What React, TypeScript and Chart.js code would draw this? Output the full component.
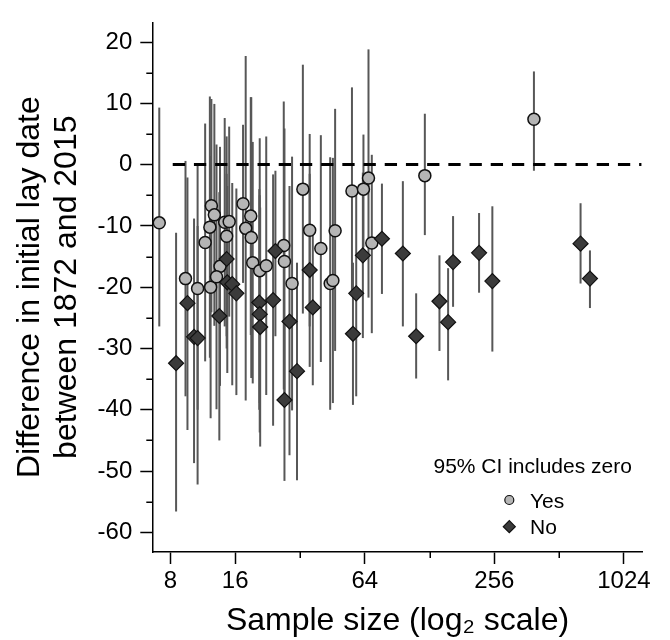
import React, { useEffect, useRef } from "react";
import { Chart, registerables } from "chart.js";

Chart.register(...registerables);

// ---- Data: "Yes" (95% CI includes zero) ----
const yesSampleSize = [7.1, 9.4, 10.7, 12.3, 11.6, 12.2, 12.4, 12.8, 13.6, 13.1, 14.3, 15.0, 14.6, 17.4, 18.9, 17.9, 19.0, 19.3, 20.8, 22.3, 26.9, 27.1, 29.4, 33.0, 35.5, 40.0, 44.2, 45.5, 46.6, 55.8, 63.1, 66.6, 69.0, 121.7, 391];
const yesDifference = [-9.5, -18.6, -20.2, -20.0, -12.7, -10.2, -6.7, -8.2, -16.6, -18.3, -9.4, -9.3, -11.7, -6.4, -8.4, -10.4, -11.9, -16.0, -17.3, -16.5, -13.2, -15.8, -19.4, -4.0, -10.7, -13.7, -19.4, -18.9, -10.8, -4.3, -4.0, -2.2, -12.8, -1.8, 7.4];
const yesLower = [-26.4, -37.8, -40.0, -41.4, -32.1, -31.5, -24.1, -26.3, -36.1, -39.9, -26.4, -24.8, -28.0, -19.3, -27.8, -38.5, -34.8, -35.7, -38.9, -37.6, -36.7, -37.5, -40.1, -24.3, -26.4, -32.2, -40.0, -38.9, -30.4, -21.2, -13.5, -21.7, -27.5, -11.5, -1.0];
const yesUpper = [9.3, 0.6, 0.2, 1.4, 6.7, 11.1, 10.7, 9.9, 2.9, 3.3, 7.6, 6.2, 4.6, 6.5, 11.0, 17.7, 11.0, 3.7, 4.3, 4.6, 10.3, 5.9, 1.3, 16.3, 5.0, 4.8, 1.2, 1.1, 9.1, 12.6, 4.9, 18.8, 1.6, 8.3, 15.2];

// ---- Data: "No" (95% CI excludes zero) ----
const noSampleSize = [8.5, 9.6, 10.3, 10.7, 13.5, 14.6, 14.7, 15.5, 16.2, 20.7, 20.8, 20.9, 24.0, 24.6, 27.1, 28.6, 31.0, 35.5, 36.7, 56.4, 58.4, 62.7, 76.9, 96.2, 110.9, 142.3, 156.1, 164.6, 217.4, 250.6, 644, 712];
const noDifference = [-32.4, -22.6, -28.1, -28.3, -24.7, -15.4, -19.2, -19.5, -21.0, -22.5, -24.4, -26.5, -22.1, -14.1, -38.4, -25.6, -33.7, -17.2, -23.3, -27.6, -21.0, -14.8, -12.1, -14.5, -28.0, -22.3, -25.7, -15.9, -14.4, -19.0, -12.9, -18.6];
const noLower = [-56.6, -43.3, -48.7, -52.2, -45.0, -30.0, -34.0, -36.0, -37.6, -40.0, -43.7, -46.0, -42.6, -28.0, -51.6, -47.4, -51.5, -33.0, -36.0, -39.2, -37.8, -28.3, -21.1, -26.4, -34.9, -30.4, -35.2, -23.2, -20.9, -30.5, -19.4, -23.4];
const noUpper = [-11.1, -2.1, -8.8, -10.0, -4.5, -1.5, -3.5, -3.0, -3.9, -4.0, -5.0, -7.0, -1.6, -1.0, -25.0, -3.5, -16.0, -1.5, -10.5, -16.0, -4.5, -1.3, -3.1, -2.7, -21.0, -14.8, -16.9, -8.4, -7.9, -6.8, -6.3, -14.0];

// ---- Axes ----
const xTickLabels = [8, 16, 64, 256, 1024];
const xMinorTicks = [32, 128, 512];
const yTickLabels = [20, 10, 0, -10, -20, -30, -40, -50, -60];
const yMinorTicks = [15, 5, -5, -15, -25, -35, -45, -55];
const xRange = [6.59, 1252];
const yRange = [-63.2, 23.2];
const zeroLineRange = [8.2, 1235];

const yAxisTitle = ["Difference in initial lay date", "between 1872 and 2015"];
const xAxisTitle = "Sample size (log\u2082 scale)";
const legendTitle = "95% CI includes zero";
const legendLabels = ["Yes", "No"];

const FONT = "'Liberation Sans', Arial, Helvetica, sans-serif";
const YES_FILL = "#b5b5b5";
const NO_FILL = "#3b3b3b";
const EDGE = "#111111";

const toPoints = (xs: number[], ys: number[], lo: number[], hi: number[]) =>
  xs.map((x, i) => ({ x, y: ys[i], lo: lo[i], hi: hi[i] }));

const errorBarPlugin = {
  id: "errorBars",
  beforeDatasetsDraw(chart: any) {
    const { ctx, scales } = chart;
    const xs = scales.x;
    const ys = scales.y;
    ctx.save();
    ctx.strokeStyle = "#575757";
    ctx.lineWidth = 2;
    chart.data.datasets.forEach((ds: any) => {
      if (!ds.errorBars) return;
      ds.data.forEach((p: any) => {
        const px = xs.getPixelForValue(p.x);
        ctx.beginPath();
        ctx.moveTo(px, ys.getPixelForValue(p.lo));
        ctx.lineTo(px, ys.getPixelForValue(p.hi));
        ctx.stroke();
      });
    });
    ctx.restore();
  },
};

const minorTickPlugin = {
  id: "minorTicks",
  afterDraw(chart: any) {
    const { ctx, chartArea, scales } = chart;
    ctx.save();
    ctx.strokeStyle = "#000";
    ctx.lineWidth = 1.5;
    yMinorTicks.forEach((v) => {
      const py = Math.round(scales.y.getPixelForValue(v)) + 0.25;
      ctx.beginPath();
      ctx.moveTo(chartArea.left - 6, py);
      ctx.lineTo(chartArea.left, py);
      ctx.stroke();
    });
    xMinorTicks.forEach((v) => {
      const px = Math.round(scales.x.getPixelForValue(v)) + 0.25;
      ctx.beginPath();
      ctx.moveTo(px, chartArea.bottom);
      ctx.lineTo(px, chartArea.bottom + 6);
      ctx.stroke();
    });
    ctx.restore();
  },
};

const legendPlugin = {
  id: "ciLegend",
  afterDraw(chart: any) {
    const { ctx, chartArea } = chart;
    ctx.save();
    ctx.fillStyle = "#000";
    ctx.font = `21px ${FONT}`;
    ctx.textAlign = "center";
    ctx.textBaseline = "alphabetic";
    ctx.fillText(legendTitle, chartArea.right - 110, chartArea.bottom - 78.7);
    const mx = chartArea.right - 133.4;
    legendLabels.forEach((label, i) => {
      const my = chartArea.bottom - 52 + i * 26.7;
      ctx.lineWidth = 1.2;
      ctx.strokeStyle = EDGE;
      ctx.beginPath();
      if (i === 0) {
        ctx.fillStyle = YES_FILL;
        ctx.arc(mx, my, 4.5, 0, Math.PI * 2);
      } else {
        ctx.fillStyle = NO_FILL;
        const r = 6;
        ctx.moveTo(mx - r, my);
        ctx.lineTo(mx, my - r);
        ctx.lineTo(mx + r, my);
        ctx.lineTo(mx, my + r);
        ctx.closePath();
      }
      ctx.fill();
      ctx.stroke();
      ctx.fillStyle = "#000";
      ctx.textAlign = "left";
      ctx.fillText(label, mx + 20.7, my + 7.7);
    });
    ctx.restore();
  },
};

export default function App() {
  const canvasRef = useRef<HTMLCanvasElement | null>(null);

  useEffect(() => {
    if (!canvasRef.current) return;
    Chart.defaults.font.family = FONT;
    Chart.defaults.color = "#000";

    const chart = new Chart(canvasRef.current, {
      type: "scatter",
      data: {
        datasets: [
          {
            label: "zero",
            data: zeroLineRange.map((x) => ({ x, y: 0 })),
            showLine: true,
            borderColor: "#000",
            borderWidth: 3,
            borderDash: [12.3, 8.9],
            pointRadius: 0,
            order: 3,
            clip: false,
          } as any,
          {
            label: legendLabels[0],
            data: toPoints(yesSampleSize, yesDifference, yesLower, yesUpper),
            errorBars: true,
            pointStyle: "circle",
            pointRadius: 6,
            pointBackgroundColor: YES_FILL,
            pointBorderColor: EDGE,
            pointBorderWidth: 1.5,
            order: 2,
            clip: false,
          } as any,
          {
            label: legendLabels[1],
            data: toPoints(noSampleSize, noDifference, noLower, noUpper),
            errorBars: true,
            pointStyle: "rectRot",
            pointRadius: 7.5,
            pointBackgroundColor: NO_FILL,
            pointBorderColor: EDGE,
            pointBorderWidth: 1.2,
            order: 1,
            clip: false,
          } as any,
        ],
      },
      options: {
        animation: false,
        responsive: false,
        devicePixelRatio: 1,
        layout: { padding: { top: 8.3, right: 27.3, left: 0, bottom: 0 } },
        plugins: {
          legend: { display: false },
          tooltip: { enabled: false },
        },
        scales: {
          x: {
            type: "logarithmic",
            min: xRange[0],
            max: xRange[1],
            afterBuildTicks: (scale: any) => {
              scale.ticks = xTickLabels.map((v) => ({ value: v }));
            },
            afterFit: (scale: any) => {
              scale.height = 88;
            },
            ticks: {
              callback: (v: any) => String(v),
              font: { size: 24 },
              color: "#000",
              padding: 3,
              maxRotation: 0,
              autoSkip: false,
            },
            grid: {
              display: true,
              drawOnChartArea: false,
              drawTicks: true,
              tickLength: 12,
              tickColor: "#000",
              tickWidth: 1.5,
            },
            border: { display: true, color: "#000", width: 1.5 },
            title: {
              display: true,
              text: xAxisTitle,
              font: { size: 32, lineHeight: 1.2 },
              color: "#000",
              padding: { top: 0, bottom: 0 },
            },
          },
          y: {
            type: "linear",
            min: yRange[0],
            max: yRange[1],
            afterBuildTicks: (scale: any) => {
              scale.ticks = yTickLabels.map((v) => ({ value: v }));
            },
            afterFit: (scale: any) => {
              scale.width = 152.3;
            },
            ticks: {
              callback: (v: any) => String(v),
              font: { size: 24 },
              color: "#000",
              padding: 8,
              autoSkip: false,
            },
            grid: {
              display: true,
              drawOnChartArea: false,
              drawTicks: true,
              tickLength: 12,
              tickColor: "#000",
              tickWidth: 1.5,
            },
            border: { display: true, color: "#000", width: 1.5 },
            title: {
              display: true,
              text: yAxisTitle,
              font: { size: 32, lineHeight: 1.15 },
              color: "#000",
              padding: { top: 12, bottom: 0 },
            },
          },
        },
      },
      plugins: [errorBarPlugin, minorTickPlugin, legendPlugin],
    });

    return () => chart.destroy();
  }, []);

  return (
    <div style={{ position: "absolute", left: 0, top: 0, width: 670, height: 640, background: "#fff" }}>
      <canvas ref={canvasRef} width={670} height={640} style={{ display: "block" }} />
    </div>
  );
}
